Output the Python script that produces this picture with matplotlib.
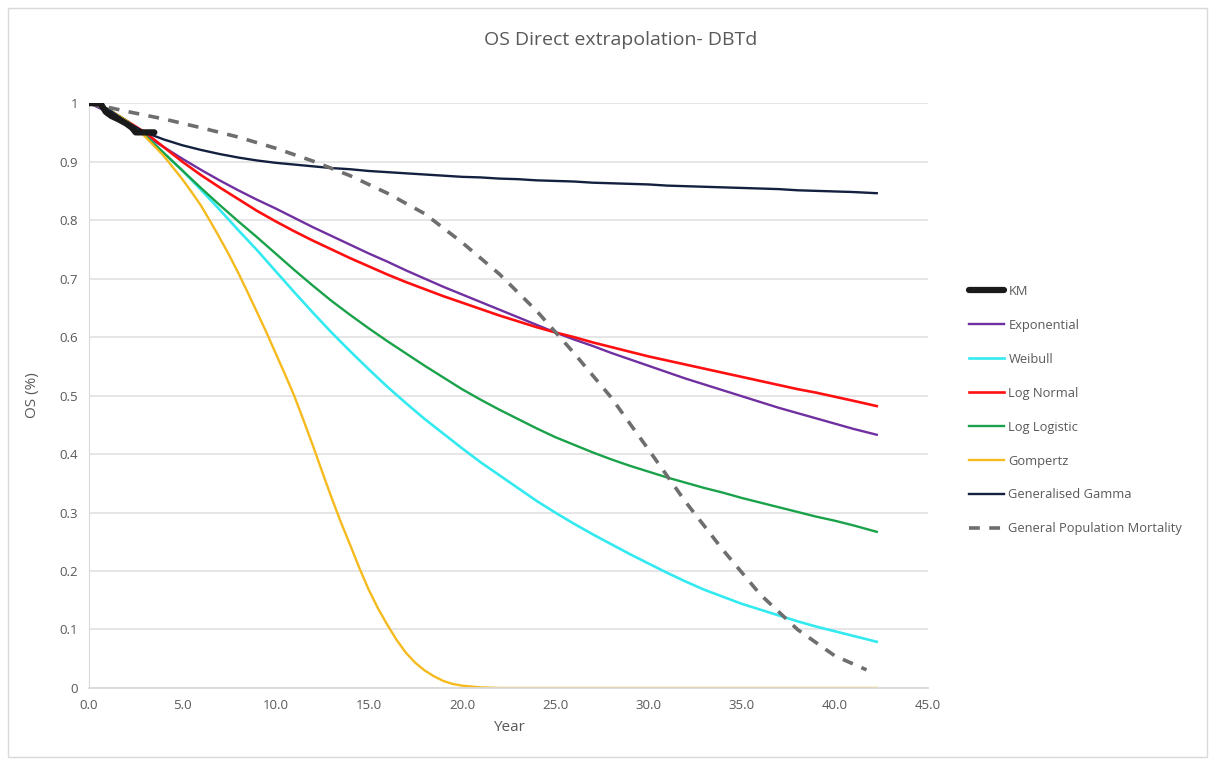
import matplotlib
matplotlib.use("Agg")
import matplotlib.pyplot as plt
from matplotlib.patches import Rectangle

plt.rcParams['font.family'] = ['Open Sans', 'DejaVu Sans']

# yearly grid used for the model curves (last point is the horizon)
years = [0, 1, 2, 3, 4, 5, 6, 7, 8, 9, 10, 11, 12, 13, 14, 15, 16, 17, 18, 19, 20,
         21, 22, 23, 24, 25, 26, 27, 28, 29, 30, 31, 32, 33, 34, 35, 36, 37, 38, 39,
         40, 41, 42.25]

exponential = [1.0, 0.985, 0.965, 0.945, 0.925, 0.905, 0.886, 0.868, 0.851, 0.835, 0.820,
               0.804, 0.788, 0.773, 0.758, 0.743, 0.729, 0.714, 0.700, 0.686, 0.673,
               0.660, 0.647, 0.634, 0.621, 0.608, 0.596, 0.585, 0.573, 0.562, 0.551,
               0.540, 0.529, 0.519, 0.509, 0.499, 0.489, 0.479, 0.470, 0.461, 0.452,
               0.443, 0.433]
weibull = [1.0, 0.99, 0.97, 0.945, 0.915, 0.885, 0.852, 0.818, 0.783, 0.749, 0.713,
           0.677, 0.642, 0.608, 0.576, 0.545, 0.515, 0.487, 0.460, 0.435, 0.410,
           0.386, 0.364, 0.342, 0.320, 0.300, 0.281, 0.263, 0.246, 0.229, 0.213,
           0.197, 0.182, 0.168, 0.156, 0.144, 0.134, 0.124, 0.114, 0.105, 0.097,
           0.089, 0.079]
log_normal = [1.0, 0.99, 0.97, 0.95, 0.925, 0.900, 0.877, 0.856, 0.836, 0.816, 0.798,
              0.781, 0.765, 0.750, 0.735, 0.721, 0.707, 0.694, 0.682, 0.670, 0.659,
              0.648, 0.637, 0.627, 0.617, 0.608, 0.600, 0.591, 0.583, 0.575, 0.567,
              0.560, 0.553, 0.546, 0.539, 0.532, 0.525, 0.518, 0.511, 0.505, 0.498,
              0.491, 0.482]
log_logistic = [1.0, 0.99, 0.97, 0.945, 0.915, 0.885, 0.855, 0.826, 0.798, 0.771, 0.743,
                0.715, 0.688, 0.662, 0.638, 0.615, 0.593, 0.572, 0.551, 0.531, 0.511,
                0.493, 0.476, 0.460, 0.444, 0.429, 0.416, 0.403, 0.391, 0.380, 0.370,
                0.360, 0.351, 0.342, 0.334, 0.325, 0.317, 0.309, 0.301, 0.293, 0.286,
                0.278, 0.267]
gen_gamma = [1.0, 0.99, 0.968, 0.950, 0.938, 0.928, 0.920, 0.913, 0.907, 0.902, 0.898,
             0.895, 0.892, 0.889, 0.887, 0.884, 0.882, 0.880, 0.878, 0.876, 0.874,
             0.873, 0.871, 0.870, 0.868, 0.867, 0.866, 0.864, 0.863, 0.862, 0.861,
             0.859, 0.858, 0.857, 0.856, 0.855, 0.854, 0.853, 0.851, 0.850, 0.849,
             0.848, 0.846]

# Gompertz read at half-year steps where it bends sharply
gomp_years = [0, 1, 2, 3, 4, 5, 5.5, 6, 6.5, 7, 7.5, 8, 8.5, 9, 9.5, 10, 10.5, 11,
              11.5, 12, 12.5, 13, 13.5, 14, 14.5, 15, 15.5, 16, 16.5, 17, 17.5, 18,
              18.5, 19, 19.5, 20, 21, 22, 25, 30, 35, 40, 42.25]
gompertz = [1.0, 0.99, 0.97, 0.943, 0.910, 0.870, 0.848, 0.825, 0.798, 0.770, 0.741,
            0.710, 0.677, 0.643, 0.609, 0.573, 0.537, 0.500, 0.458, 0.415, 0.370,
            0.326, 0.284, 0.245, 0.205, 0.168, 0.136, 0.108, 0.082, 0.060, 0.043,
            0.030, 0.020, 0.012, 0.007, 0.004, 0.001, 0.0, 0.0, 0.0, 0.0, 0.0, 0.0]

# general population mortality
gpm_years = [0, 2, 4, 6, 8, 10, 12, 14, 16, 18, 20, 22, 24, 26, 28, 30, 32, 34, 36,
             38, 40, 41.7]
gpm = [1.0, 0.986, 0.973, 0.958, 0.942, 0.923, 0.901, 0.876, 0.846, 0.811, 0.762,
       0.708, 0.645, 0.573, 0.497, 0.408, 0.318, 0.236, 0.160, 0.100, 0.055, 0.031]

# Kaplan-Meier (observed)
km_years = [0, 0.6, 0.9, 1.2, 1.6, 2.0, 2.3, 2.5, 3.5]
km = [1.0, 1.0, 0.985, 0.978, 0.972, 0.965, 0.958, 0.95, 0.95]

fig = plt.figure(figsize=(12.15, 7.64), dpi=100)
ax = fig.add_axes([0.0733, 0.0995, 0.6905, 0.7655])

ax.plot(km_years, km, color='#1a1a1a', lw=4.5, solid_capstyle='round',
        solid_joinstyle='round', label='KM', zorder=10)
ax.plot(years, exponential, color='#7030A0', lw=1.7, label='Exponential')
ax.plot(years, weibull, color='#33EAF0', lw=1.9, label='Weibull')
ax.plot(years, log_normal, color='#FF1010', lw=1.9, label='Log Normal')
ax.plot(years, log_logistic, color='#1AA24A', lw=1.7, label='Log Logistic')
ax.plot(gomp_years, gompertz, color='#F5BA1E', lw=1.7, label='Gompertz')
ax.plot(years, gen_gamma, color='#14203F', lw=1.7, label='Generalised Gamma')
ax.plot(gpm_years, gpm, color='#6E6E6E', lw=2.6, dashes=(3, 2.6),
        label='General Population Mortality')

ax.set_xlim(0, 45)
ax.set_ylim(0, 1)
ax.set_xticks([0, 5, 10, 15, 20, 25, 30, 35, 40, 45])
ax.set_xticklabels(['0.0', '5.0', '10.0', '15.0', '20.0', '25.0', '30.0', '35.0',
                    '40.0', '45.0'])
ax.set_yticks([i / 10 for i in range(11)])
ax.set_yticklabels(['0', '0.1', '0.2', '0.3', '0.4', '0.5', '0.6', '0.7', '0.8',
                    '0.9', '1'])
ax.grid(axis='y', color='#E2E2E2', lw=1.2)
ax.set_axisbelow(True)
for s in ['top', 'right']:
    ax.spines[s].set_visible(False)
ax.spines['left'].set_color('#D9D9D9')
ax.spines['bottom'].set_color('#D9D9D9')
ax.spines['bottom'].set_linewidth(1.3)
ax.tick_params(length=0, labelsize=9.5, labelcolor='#595959', pad=8)

ax.set_xlabel('Year', fontsize=11, color='#595959', labelpad=6)
ax.set_ylabel('OS (%)', fontsize=11, color='#595959', labelpad=14)
fig.text(0.511, 0.947, 'OS Direct extrapolation- DBTd', ha='center', va='center',
         fontsize=14, color='#595959')

leg = ax.legend(loc='center left', bbox_to_anchor=(1.035, 0.475), frameon=False,
                fontsize=9.3, labelspacing=1.62, handlelength=2.7,
                handletextpad=0.35)
for t in leg.get_texts():
    t.set_color('#595959')

fig.patches.append(Rectangle((0.0066, 0.009), 0.987, 0.981, transform=fig.transFigure,
                             fill=False, edgecolor='#D9D9D9', lw=1.0))

fig.savefig('out.png', dpi=100)
